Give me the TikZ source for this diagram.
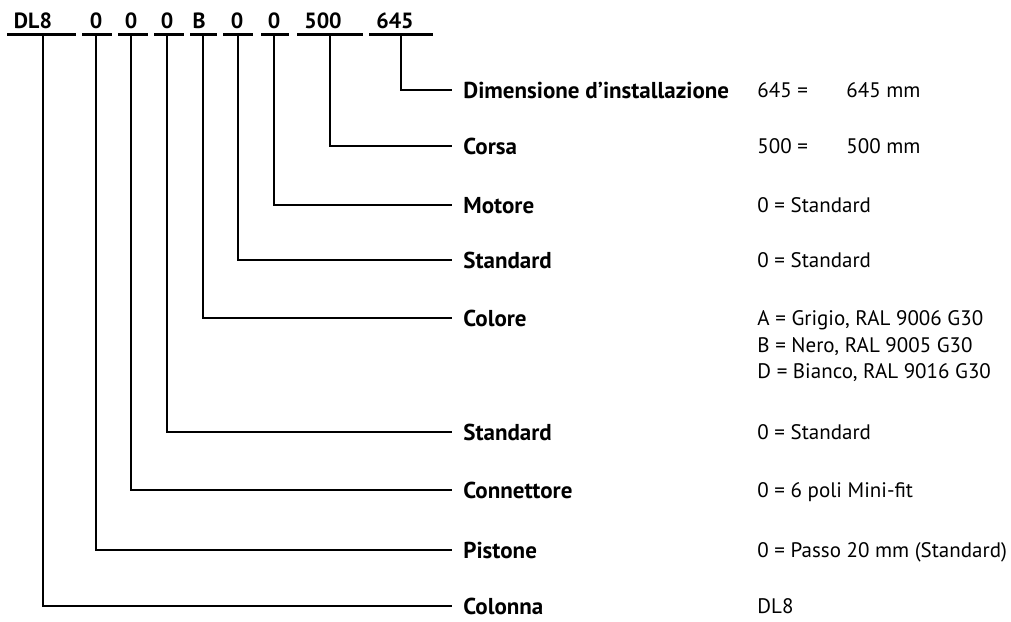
\documentclass[tikz,border=0pt]{standalone}
\usepackage{fontspec}
\setmainfont{PT Sans}
\begin{document}
\begin{tikzpicture}[
    x = 0.5pt, y = -0.5pt,
    font = \fontsize{10.5}{12}\selectfont,
    code/.style = {anchor = base, inner sep = 0pt, font = \fontsize{11}{13}\selectfont\bfseries},
    uline/.style = {line width = 1.35pt},
    tap/.style = {line width = 0.65pt},
    lab/.style = {anchor = west, inner xsep = 5.5pt, inner ysep = 0pt,
                  text height = 8pt, text depth = 0pt, font = \fontsize{11.5}{13}\selectfont\bfseries},
    val/.style = {anchor = west, inner sep = 0pt, text height = 7.5pt, text depth = 0pt}
  ]
  \useasboundingbox (0,0) rectangle (1011,621);
  % the type code
  \node[code] (dl8)  at (33,  28) {DL8};
  \node[code] (pis)  at (96,  28) {0};
  \node[code] (con)  at (131, 28) {0};
  \node[code] (std1) at (167, 28) {0};
  \node[code] (col)  at (199, 28) {B};
  \node[code] (std2) at (237, 28) {0};
  \node[code] (mot)  at (274, 28) {0};
  \node[code] (cor)  at (323, 28) {500};
  \node[code] (dim)  at (395, 28) {645};
  % underlines
  \draw[uline] (7,   34.5) -- (76,  34.5);
  \draw[uline] (82,  34.5) -- (112, 34.5);
  \draw[uline] (118, 34.5) -- (148, 34.5);
  \draw[uline] (154, 34.5) -- (184, 34.5);
  \draw[uline] (190, 34.5) -- (217, 34.5);
  \draw[uline] (223, 34.5) -- (253, 34.5);
  \draw[uline] (261, 34.5) -- (289, 34.5);
  \draw[uline] (297, 34.5) -- (363, 34.5);
  \draw[uline] (369, 34.5) -- (433, 34.5);
  % taps on the underlines
  \coordinate (t-dl8)  at (43,  34.5);
  \coordinate (t-pis)  at (96,  34.5);
  \coordinate (t-con)  at (131, 34.5);
  \coordinate (t-std1) at (167, 34.5);
  \coordinate (t-col)  at (203, 34.5);
  \coordinate (t-std2) at (238, 34.5);
  \coordinate (t-mot)  at (274, 34.5);
  \coordinate (t-cor)  at (330, 34.5);
  \coordinate (t-dim)  at (401, 34.5);
  % labels
  \node[lab] (l-dim)  at (452, 90)  {Dimensione d’installazione};
  \node[lab] (l-cor)  at (452, 146) {Corsa};
  \node[lab] (l-mot)  at (452, 205) {Motore};
  \node[lab] (l-std2) at (452, 260) {Standard};
  \node[lab] (l-col)  at (452, 318) {Colore};
  \node[lab] (l-std1) at (452, 432) {Standard};
  \node[lab] (l-con)  at (452, 490) {Connettore};
  \node[lab] (l-pis)  at (452, 550) {Pistone};
  \node[lab] (l-dl8)  at (452, 606) {Colonna};
  % values
  \node[val] (v-dim)  at (757, 90)  {645 =};
  \node[val] (v-dimb) at (846, 90)  {645 mm};
  \node[val] (v-cor)  at (757, 146) {500 =};
  \node[val] (v-corb) at (846, 146) {500 mm};
  \node[val] (v-mot)  at (757, 205) {0 = Standard};
  \node[val] (v-std2) at (757, 260) {0 = Standard};
  \node[val] (v-colA) at (757, 318) {A = Grigio, RAL 9006 G30};
  \node[val] (v-colB) at (757, 344.5) {B = Nero, RAL 9005 G30};
  \node[val] (v-colD) at (757, 371) {D = Bianco, RAL 9016 G30};
  \node[val] (v-std1) at (757, 432) {0 = Standard};
  \node[val] (v-con)  at (757, 490) {0 = 6 poli Mini-fit};
  \node[val] (v-pis)  at (757, 550) {0 = Passo 20 mm (Standard)};
  \node[val] (v-dl8)  at (757, 606) {DL8};
  % the leader lines
  \draw[tap] (t-dim)  |- (l-dim.west);
  \draw[tap] (t-cor)  |- (l-cor.west);
  \draw[tap] (t-mot)  |- (l-mot.west);
  \draw[tap] (t-std2) |- (l-std2.west);
  \draw[tap] (t-col)  |- (l-col.west);
  \draw[tap] (t-std1) |- (l-std1.west);
  \draw[tap] (t-con)  |- (l-con.west);
  \draw[tap] (t-pis)  |- (l-pis.west);
  \draw[tap] (t-dl8)  |- (l-dl8.west);
\end{tikzpicture}
\end{document}
